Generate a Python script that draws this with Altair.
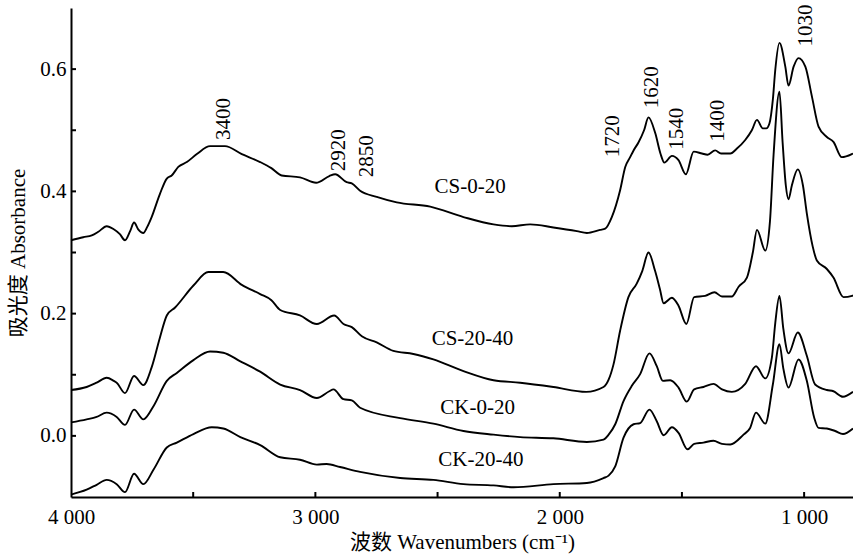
import altair as alt
import pandas as pd

FONT = "Liberation Serif, Noto Sans CJK SC"

# ---- spectra (wavenumber cm-1, absorbance) ----
wn_cs_0_20 = [4000, 3950, 3915, 3888, 3854, 3825, 3800, 3779, 3758, 3742, 3725, 3704, 3688, 3670,
              3636, 3608, 3588, 3561, 3526, 3485, 3431, 3370, 3301, 3226, 3180, 3138, 3063, 2997,
              2943, 2919, 2872, 2851, 2817, 2749, 2667, 2530, 2394, 2271, 2196, 2121, 2026, 1930,
              1889, 1835, 1814, 1787, 1753, 1732, 1712, 1698, 1678, 1655, 1637, 1609, 1588, 1572,
              1541, 1514, 1484, 1452, 1418, 1395, 1364, 1340, 1302, 1275, 1241, 1214, 1193, 1169,
              1155, 1142, 1128, 1118, 1101, 1077, 1064, 1043, 1023, 995, 968, 941, 907, 880, 846,
              805, 800]
ab_cs_0_20 = [0.320, 0.325, 0.328, 0.334, 0.343, 0.338, 0.330, 0.320, 0.335, 0.349, 0.338, 0.332, 0.342, 0.358,
              0.396, 0.421, 0.426, 0.440, 0.448, 0.461, 0.474, 0.474, 0.461, 0.448, 0.438, 0.426, 0.423, 0.414,
              0.425, 0.428, 0.415, 0.413, 0.401, 0.391, 0.382, 0.375, 0.358, 0.346, 0.343, 0.346, 0.341, 0.335,
              0.332, 0.337, 0.339, 0.358, 0.402, 0.440, 0.456, 0.467, 0.480, 0.500, 0.521, 0.495, 0.462, 0.447,
              0.458, 0.451, 0.428, 0.465, 0.462, 0.460, 0.467, 0.462, 0.462, 0.470, 0.484, 0.500, 0.517, 0.503,
              0.503, 0.511, 0.550, 0.599, 0.643, 0.604, 0.573, 0.604, 0.618, 0.604, 0.555, 0.506, 0.489, 0.481, 0.456,
              0.461, 0.462]

wn_cs_20_40 = [4000, 3936, 3895, 3854, 3825, 3813, 3779, 3742, 3704, 3670, 3636, 3608, 3574, 3499,
               3438, 3377, 3301, 3226, 3180, 3144, 3063, 2994, 2923, 2885, 2851, 2810, 2749, 2681,
               2599, 2517, 2394, 2271, 2162, 2026, 1892, 1821, 1800, 1780, 1753, 1719, 1685, 1662,
               1637, 1610, 1590, 1575, 1541, 1514, 1482, 1450, 1405, 1367, 1336, 1296, 1268, 1234,
               1210, 1193, 1159, 1140, 1125, 1101, 1088, 1075, 1064, 1050, 1026, 1005, 989, 965,
               948, 907, 880, 839, 804, 800]
ab_cs_20_40 = [0.075, 0.080, 0.087, 0.095, 0.090, 0.087, 0.070, 0.098, 0.083, 0.112, 0.161, 0.197, 0.210, 0.246,
               0.268, 0.268, 0.247, 0.232, 0.222, 0.206, 0.197, 0.183, 0.197, 0.183, 0.178, 0.163, 0.153, 0.139,
               0.134, 0.125, 0.106, 0.091, 0.087, 0.080, 0.072, 0.080, 0.092, 0.117, 0.172, 0.227, 0.249, 0.270,
               0.300, 0.270, 0.240, 0.217, 0.226, 0.213, 0.183, 0.227, 0.229, 0.235, 0.228, 0.228, 0.244, 0.259,
               0.300, 0.337, 0.303, 0.350, 0.460, 0.563, 0.480, 0.410, 0.387, 0.410, 0.436, 0.410, 0.364, 0.310,
               0.287, 0.273, 0.259, 0.227, 0.229, 0.230]

wn_ck_0_20 = [4000, 3936, 3895, 3854, 3813, 3779, 3742, 3704, 3662, 3608, 3567, 3499, 3431, 3377,
              3307, 3226, 3144, 3063, 2994, 2943, 2926, 2885, 2851, 2817, 2653, 2517, 2394, 2271,
              2162, 2026, 1889, 1821, 1800, 1773, 1739, 1705, 1671, 1633, 1603, 1578, 1548, 1514,
              1480, 1450, 1412, 1371, 1336, 1296, 1241, 1197, 1159, 1132, 1118, 1101, 1085, 1064,
              1026, 989, 955, 907, 880, 841, 800]
ab_ck_0_20 = [0.022, 0.027, 0.031, 0.038, 0.031, 0.018, 0.043, 0.027, 0.049, 0.090, 0.103, 0.124, 0.138, 0.136,
              0.122, 0.105, 0.084, 0.075, 0.062, 0.073, 0.076, 0.060, 0.058, 0.046, 0.029, 0.020, 0.008, 0.002,
              -0.002, -0.004, -0.010, -0.006, 0.002, 0.019, 0.057, 0.082, 0.101, 0.135, 0.114, 0.090, 0.091, 0.079,
              0.056, 0.076, 0.080, 0.085, 0.076, 0.072, 0.085, 0.114, 0.094, 0.128, 0.185, 0.229, 0.175, 0.135,
              0.169, 0.131, 0.084, 0.075, 0.073, 0.064, 0.072]

wn_ck_20_40 = [4000, 3936, 3895, 3854, 3813, 3779, 3742, 3704, 3662, 3608, 3567, 3499, 3424, 3377,
               3307, 3226, 3144, 3063, 2994, 2954, 2899, 2817, 2653, 2517, 2394, 2271, 2189, 2026,
               1889, 1821, 1800, 1773, 1739, 1698, 1671, 1633, 1603, 1575, 1541, 1514, 1477, 1450,
               1412, 1371, 1336, 1302, 1248, 1221, 1197, 1159, 1128, 1101, 1085, 1064, 1023, 989,
               959, 941, 907, 873, 841, 800]
ab_ck_20_40 = [-0.096, -0.088, -0.080, -0.072, -0.079, -0.092, -0.062, -0.079, -0.055, -0.019, -0.011, 0.003, 0.014, 0.012,
               -0.002, -0.015, -0.035, -0.039, -0.047, -0.046, -0.051, -0.059, -0.069, -0.072, -0.079, -0.081, -0.084, -0.079,
               -0.077, -0.069, -0.065, -0.050, -0.003, 0.019, 0.021, 0.043, 0.024, 0.001, 0.014, 0.005, -0.022, -0.013,
               -0.011, -0.008, -0.013, -0.014, 0.002, 0.013, 0.038, 0.020, 0.084, 0.150, 0.110, 0.079, 0.125, 0.090,
               0.030, 0.013, 0.012, 0.008, 0.003, 0.012]

series_names = ["CS-0-20", "CS-20-40", "CK-0-20", "CK-20-40"]
series_wn = [wn_cs_0_20, wn_cs_20_40, wn_ck_0_20, wn_ck_20_40]
series_ab = [ab_cs_0_20, ab_cs_20_40, ab_ck_0_20, ab_ck_20_40]

# curve labels
label_text = ["CS-0-20", "CS-20-40", "CK-0-20", "CK-20-40"]
label_wn = [2367, 2357, 2336, 2323]
label_ab = [0.397, 0.148, 0.036, -0.050]

# peak labels (rotated)
peak_text = ["3400", "2920", "2850", "1720", "1620", "1540", "1400", "1030"]
peak_wn = [3349, 2878, 2764, 1757, 1597, 1495, 1327, 967]
peak_ab = [0.484, 0.433, 0.423, 0.456, 0.536, 0.468, 0.481, 0.637]

# axis ticks
x_major = [4000, 3000, 2000, 1000]
x_ticks = [3500, 3000, 2500, 2000, 1500, 1000]
y_major = [0.0, 0.2, 0.4, 0.6]
y_ticks = [0.0, 0.1, 0.2, 0.3, 0.4, 0.5, 0.6]

rows = []
for name, wn, ab in zip(series_names, series_wn, series_ab):
    for i, (w, a) in enumerate(zip(wn, ab)):
        rows.append({"series": name, "wn": w, "ab": a, "i": i})
df = pd.DataFrame(rows)

W, H = 782, 489
xs = alt.Scale(domain=[800, 4000], reverse=True, nice=False, zero=False)
ys = alt.Scale(domain=[-0.1, 0.7], nice=False, zero=False)

x_axis = alt.Axis(values=x_major, labelExpr="replace(format(datum.value, ','), ',', ' ')",
                  ticks=False, tickSize=0, grid=False, domainColor="black", domainWidth=2,
                  labelFont=FONT, labelFontSize=21, labelColor="black", labelPadding=9,
                  title="波数 Wavenumbers (cm⁻¹)", titleFont=FONT, titleFontSize=21,
                  titleFontWeight="normal", titleColor="black", titleY=51,
                  titleBaseline="alphabetic", labelFlush=False, labelOverlap=False)
y_axis = alt.Axis(values=y_major, format=".1f", ticks=False, tickSize=0, grid=False,
                  domainColor="black", domainWidth=2,
                  labelFont=FONT, labelFontSize=21, labelColor="black", labelPadding=5,
                  title="吸光度 Absorbance", titleFont=FONT, titleFontSize=21,
                  titleFontWeight="normal", titleColor="black", titleAngle=270,
                  titleX=-47, titleY=H / 2, titleAlign="center", titleBaseline="alphabetic",
                  labelFlush=False, labelOverlap=False)

lines = alt.Chart(df).mark_line(color="black", strokeWidth=1.9, interpolate="monotone").encode(
    x=alt.X("wn:Q", scale=xs, axis=x_axis),
    y=alt.Y("ab:Q", scale=ys, axis=y_axis),
    detail="series:N",
    order="i:Q",
)

lab_df = pd.DataFrame({"wn": label_wn, "ab": label_ab, "t": label_text})
labels = alt.Chart(lab_df).mark_text(font=FONT, fontSize=21, color="black",
                                     align="center", baseline="alphabetic").encode(
    x=alt.X("wn:Q", scale=xs), y=alt.Y("ab:Q", scale=ys), text="t:N")

pk_df = pd.DataFrame({"wn": peak_wn, "ab": peak_ab, "t": peak_text})
peaks = alt.Chart(pk_df).mark_text(font=FONT, fontSize=21, color="black", angle=270,
                                   align="left", baseline="alphabetic").encode(
    x=alt.X("wn:Q", scale=xs), y=alt.Y("ab:Q", scale=ys), text="t:N")

xt_df = pd.DataFrame({"wn": x_ticks})
xticks = alt.Chart(xt_df).mark_rule(color="black", strokeWidth=2).encode(
    x=alt.X("wn:Q", scale=xs), y=alt.value(H), y2=alt.value(H - 5))

yt_df = pd.DataFrame({"ab": y_ticks})
yticks = alt.Chart(yt_df).mark_rule(color="black", strokeWidth=2).encode(
    y=alt.Y("ab:Q", scale=ys), x=alt.value(0), x2=alt.value(5))

chart = alt.layer(lines, labels, peaks, xticks, yticks).properties(
    width=W, height=H,
    autosize=alt.AutoSizeParams(type="none"),
    padding={"left": 71, "top": 8, "right": 0, "bottom": 57},
    background="white",
).configure_view(stroke=None)

chart.save("out.html", embed_options={"renderer": "svg", "actions": False})
